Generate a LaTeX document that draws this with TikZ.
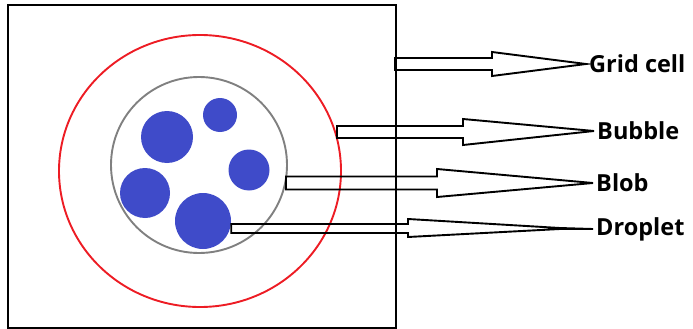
\documentclass[tikz,border=0pt]{standalone}
\usepackage{fontspec}
\setsansfont{Open Sans}
\usetikzlibrary{calc}
\definecolor{blobblue}{RGB}{63,75,201}
\definecolor{ringred}{RGB}{237,28,36}
\tikzset{
  blob/.style={circle,fill=blobblue,inner sep=0pt},
  lbl/.style={anchor=west,inner sep=3pt,font=\sffamily\bfseries\fontsize{23.5}{27}\selectfont},
  outline/.style={line width=1.9pt,line join=miter}
}

\begin{document}
\begin{tikzpicture}[x=1pt,y=-1pt]
\useasboundingbox (0,0) rectangle (693,329);
\node (cell) [draw,line width=2pt,anchor=north west,inner sep=0pt,minimum width=388pt,minimum height=323pt] at (7,4) {};
\draw[ringred,line width=1.9pt] (200,171) ellipse (141pt and 136pt);
\node (bubble) [circle,draw=gray,line width=1.9pt,inner sep=0pt,minimum size=176pt] at (199,165) {};
\foreach \x/\y/\r/\n in {167/137/26/b1, 220/115/17/b2, 249/170/20.5/b3, 145/193/25/b4, 203/221/28/b5}
  \node (\n) [blob,minimum size=2*\r pt] at (\x,\y) {};
% labels
\node (grid) [lbl] at (586,64) {Grid cell};
\node (bub) [lbl] at (594,131) {Bubble};
\node (blb) [lbl] at (593,183) {Blob};
\node (drop) [lbl] at (593,229) {Droplet};
% arrows
\foreach \x/\y/\b/\h/\H/\n in {395/64/492/6/12/grid, 337/132/463/6/13/bub, 286/183/437/6.5/14/blb}
  \draw[outline] (\x,\y-\h) -- (\b,\y-\h) -- (\b,\y-\H) -- (\n.west) -- (\b,\y+\H) -- (\b,\y+\h) -- (\x,\y+\h) -- cycle;
\draw[outline] (b5.east |- 0,224) -- (408,224) -- (408,219) -- (560,228) -- (drop.west) -- (560,229) -- (408,237) -- (408,233) -- (b5.east |- 0,233) -- cycle;
\end{tikzpicture}
\end{document}
